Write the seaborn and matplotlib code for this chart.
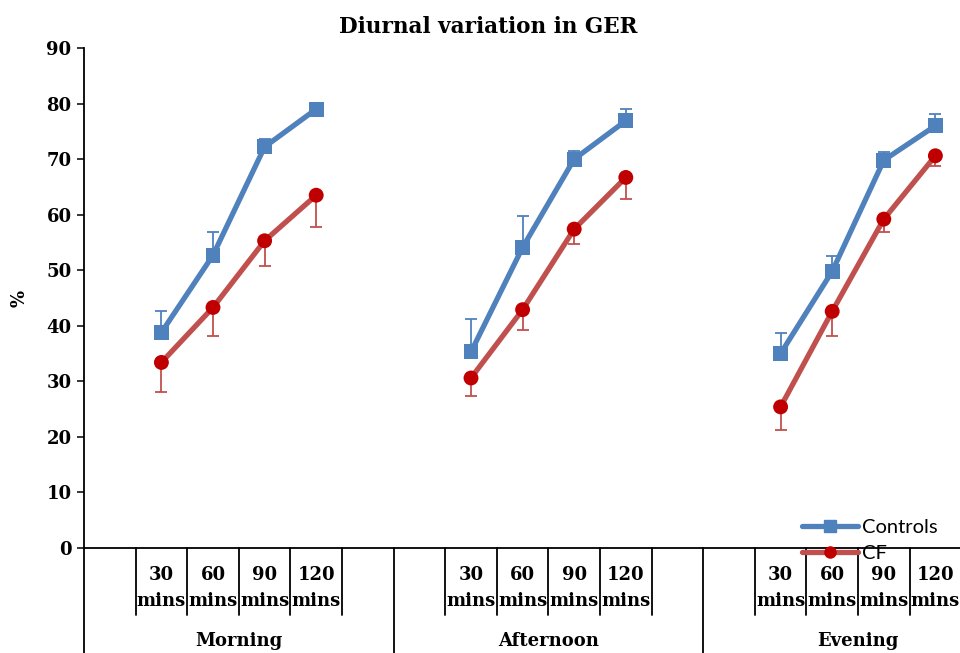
import numpy as np
import pandas as pd
import matplotlib
matplotlib.use("Agg")
import matplotlib.pyplot as plt
import matplotlib.transforms as mtransforms
from matplotlib.lines import Line2D
import seaborn as sns

# ---- data -------------------------------------------------------------
periods = ["Morning", "Afternoon", "Evening"]
times = ["30", "60", "90", "120"]
series_names = ["Controls", "CF"]

controls_mean = [38.8, 52.7, 72.2, 79.0, 35.3, 54.1, 70.0, 76.9, 35.0, 49.8, 69.8, 76.0]
controls_err = [3.9, 4.2, 1.5, 1.0, 5.9, 5.6, 1.4, 2.2, 3.7, 2.8, 1.4, 2.1]
cf_mean = [33.4, 43.3, 55.3, 63.5, 30.6, 42.9, 57.4, 66.7, 25.4, 42.6, 59.2, 70.6]
cf_err = [5.4, 5.2, 4.6, 5.7, 3.2, 3.7, 2.7, 3.9, 4.1, 4.5, 2.3, 1.8]

y_ticks = [0, 10, 20, 30, 40, 50, 60, 70, 80, 90]

# ---- style ------------------------------------------------------------
sns.set_style("ticks")
plt.rcParams["font.family"] = ["DejaVu Serif"]
plt.rcParams["text.color"] = "black"
plt.rcParams["axes.labelcolor"] = "black"
plt.rcParams["xtick.color"] = "black"
plt.rcParams["ytick.color"] = "black"

line_colors = {"Controls": "#4F81BD", "CF": "#C0504D"}
marker_colors = {"Controls": "#4F81BD", "CF": "#C00000"}
markers = {"Controls": "s", "CF": "o"}

SLOTS = 6  # category slots per period (blank, 4 times, blank)

rows = []
for g, period in enumerate(periods):
    for k, t in enumerate(times):
        i = g * len(times) + k
        x = g * SLOTS + k + 1.5
        rows.append(dict(period=period, time=t, x=x, series="Controls",
                         value=controls_mean[i], err=controls_err[i]))
        rows.append(dict(period=period, time=t, x=x, series="CF",
                         value=cf_mean[i], err=cf_err[i]))
df = pd.DataFrame(rows)

fig = plt.figure(figsize=(9.6, 6.53), dpi=100)
ax = fig.add_axes([84 / 960, 105 / 653, 928.8 / 960, 500 / 653])

# lines, one segment per period
sns.lineplot(data=df, x="x", y="value", hue="series", hue_order=series_names,
             units="period", estimator=None, sort=False, palette=line_colors,
             linewidth=3.8, legend=False, ax=ax, zorder=2)

# one-sided error bars: upper for Controls, lower for CF
for s in series_names:
    sub = df[df["series"] == s]
    zeros = np.zeros(len(sub))
    yerr = [zeros, sub["err"].values] if s == "Controls" else [sub["err"].values, zeros]
    ax.errorbar(sub["x"], sub["value"], yerr=yerr, fmt="none",
                ecolor=line_colors[s], elinewidth=1.3, capsize=4.5,
                capthick=1.3, zorder=3)

sns.scatterplot(data=df, x="x", y="value", hue="series", style="series",
                hue_order=series_names, style_order=series_names,
                markers=markers, palette=marker_colors, s=115,
                edgecolor="none", legend=False, ax=ax, zorder=4)

# ---- axes -------------------------------------------------------------
ax.set_xlim(0, SLOTS * len(periods))
ax.set_ylim(0, 90)
ax.set_yticks(y_ticks)
ax.set_xticks([])
ax.set_xlabel("")
ax.set_ylabel("")
for side in ["top", "right"]:
    ax.spines[side].set_visible(False)
for side in ["left", "bottom"]:
    ax.spines[side].set_color("black")
    ax.spines[side].set_linewidth(1.3)
ax.tick_params(axis="y", length=5, width=1.1, color="black", pad=4,
               labelsize=13, labelcolor="black")
for lab in ax.get_yticklabels():
    lab.set_fontweight("bold")

# multi-level category axis
trans = mtransforms.blended_transform_factory(ax.transData, ax.transAxes)
H = 500.0
for g, period in enumerate(periods):
    base = g * SLOTS
    for j in range(1, SLOTS):
        ax.plot([base + j, base + j], [0, -67 / H], transform=trans,
                color="black", lw=1.3, clip_on=False)
    for k, t in enumerate(times):
        cx = base + k + 1.5
        ax.text(cx, -27 / H, t, transform=trans, ha="center", va="center",
                fontsize=13, fontweight="bold", color="black")
        ax.text(cx, -53 / H, "mins", transform=trans, ha="center", va="center",
                fontsize=13, fontweight="bold", color="black")
    ax.text(base + SLOTS / 2, -93 / H, period, transform=trans, ha="center",
            va="center", fontsize=13, fontweight="bold", color="black")
for g in range(len(periods) + 1):
    ax.plot([g * SLOTS, g * SLOTS], [0, -110 / H], transform=trans,
            color="black", lw=1.3, clip_on=False)

# ---- titles and legend -----------------------------------------------
fig.text(488 / 960, 1 - 27 / 653, "Diurnal variation in GER", ha="center",
         va="center", fontsize=15.5, fontweight="bold", color="black")
fig.text(20 / 960, 1 - 298 / 653, "%", rotation=90, ha="center", va="center",
         fontsize=13, fontweight="bold", color="black")

handles = [Line2D([], [], color=line_colors[s], lw=3.8, marker=markers[s],
                  markersize=8, markerfacecolor=marker_colors[s],
                  markeredgecolor=marker_colors[s]) for s in series_names]
leg = fig.legend(handles, series_names, loc="center left",
                 bbox_to_anchor=(802 / 960, (653 - 540.5) / 653), frameon=False,
                 borderpad=0, borderaxespad=0, handlelength=2.8, handletextpad=0.2,
                 labelspacing=0.4,
                 prop={"family": ["Lato", "DejaVu Sans"], "size": 14.5})
for txt in leg.get_texts():
    txt.set_color("black")

fig.savefig("out.png", dpi=100)
